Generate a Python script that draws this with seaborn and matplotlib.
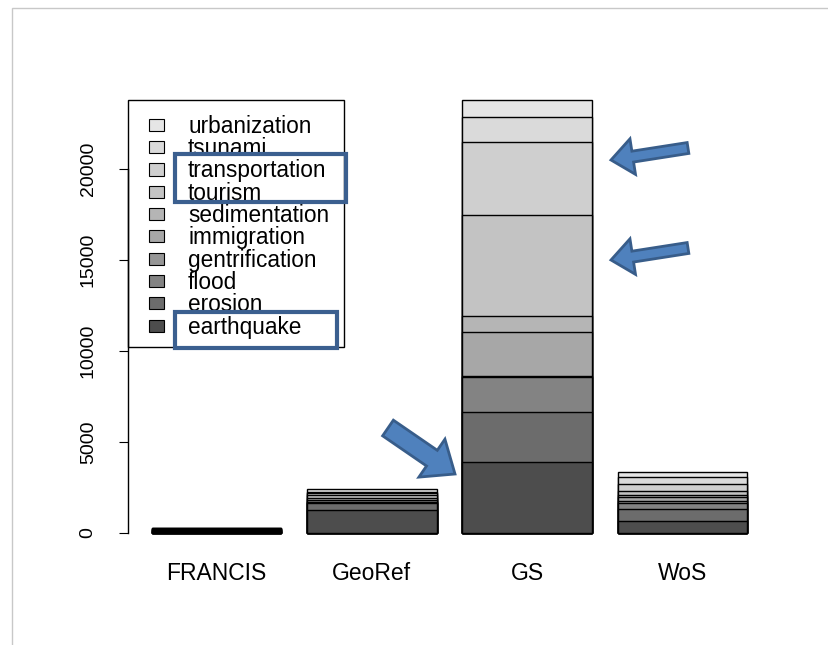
import numpy as np
import pandas as pd
import matplotlib
matplotlib.use("Agg")
import matplotlib.pyplot as plt
import matplotlib.patches as mpatches
from matplotlib.transforms import IdentityTransform
import seaborn as sns

sources = ["FRANCIS", "GeoRef", "GS", "WoS"]
topics = ["earthquake", "erosion", "flood", "gentrification", "immigration",
          "sedimentation", "tourism", "transportation", "tsunami", "urbanization"]

# hits per topic, bottom to top of each bar
francis = [60, 40, 50, 20, 30, 20, 20, 20, 10, 10]
georef = [1264, 366, 55, 30, 98, 92, 183, 92, 50, 188]
gs = [3918, 2714, 1923, 60, 2430, 879, 5550, 3995, 1407, 916]
wos = [660, 640, 370, 110, 215, 95, 235, 370, 365, 310]

# R gray.colors(10)
greys = ["#4D4D4D", "#6C6C6C", "#838383", "#969696", "#A7A7A7",
         "#B5B5B5", "#C3C3C3", "#CFCFCF", "#DADADA", "#E6E6E6"]

yticks = [0, 5000, 10000, 15000, 20000]

sns.set_style("white")
plt.rcParams["font.family"] = ["Liberation Sans", "DejaVu Sans"]
plt.rcParams["text.color"] = "black"
plt.rcParams["xtick.color"] = "black"
plt.rcParams["ytick.color"] = "black"

W, H = 829, 645
fig = plt.figure(figsize=(W / 100, H / 100), dpi=100)
ax = fig.add_axes([128 / W, (H - 550.3) / H, (771 - 128) / W, 467.6 / H])

counts = pd.DataFrame({"FRANCIS": francis, "GeoRef": georef, "GS": gs, "WoS": wos},
                      index=topics)
cum = counts.cumsum()

# stacked bars: draw cumulative totals from the top layer down
for topic, col in zip(reversed(topics), reversed(greys)):
    sns.barplot(x=sources, y=cum.loc[topic].values, color=col, saturation=1,
                edgecolor="black", linewidth=1, width=1 / 1.2, ax=ax)

ax.set_xlim(-0.5713, 3.5713)
ax.set_ylim(-951, 24743)
ax.set_xlabel("")
ax.set_ylabel("")

for s in ["top", "right", "bottom"]:
    ax.spines[s].set_visible(False)
ax.spines["left"].set_color("black")
ax.spines["left"].set_linewidth(1)
ax.spines["left"].set_bounds(0, 20000)

ax.set_yticks(yticks)
ax.set_yticklabels([str(v) for v in yticks])
ax.tick_params(axis="y", length=6.5, width=0.8, color="black", pad=16,
               labelsize=14, left=True, labelcolor="black")
for lab in ax.get_yticklabels():
    lab.set_rotation(90)
    lab.set_va("center")
ax.set_xticks(range(len(sources)))
ax.set_xticklabels(sources)
ax.tick_params(axis="x", length=0, pad=8.5, labelsize=16.5, labelcolor="black")

handles = [mpatches.Patch(facecolor=c, edgecolor="black", linewidth=0.8)
           for c in reversed(greys)]
leg = fig.legend(handles, list(reversed(topics)), loc="upper left",
                 bbox_to_anchor=(133 / W, 1 - 99 / H), bbox_transform=fig.transFigure,
                 borderaxespad=0, fontsize=16.3, frameon=False,
                 borderpad=0.7, labelspacing=-0.03, handlelength=0.68,
                 handleheight=0.45, handletextpad=1.05)
for t in leg.get_texts():
    t.set_color("black")

# legend box drawn separately so it hugs the entries like the original
fig.add_artist(mpatches.Rectangle((128 / W, 1 - 347 / H), (344 - 128) / W, (347 - 100) / H,
                                  transform=fig.transFigure, fill=False,
                                  edgecolor="black", linewidth=1, zorder=4))

# highlight boxes around legend entries
blue_dark = "#3B5F8F"
for x0, y0, x1, y1 in [(175, 154, 346, 202), (175, 312, 337, 348)]:
    fig.add_artist(mpatches.Rectangle((x0 / W, 1 - y1 / H), (x1 - x0) / W, (y1 - y0) / H,
                                      transform=fig.transFigure, fill=False,
                                      edgecolor=blue_dark, linewidth=3, zorder=10))

# arrows (pixel coordinates, origin bottom-left)
for tx, ty, hx, hy, w, hw, hl in [(688, H - 148, 611, H - 160, 11, 36, 22),
                                  (688, H - 248, 611, H - 260, 11, 36, 22),
                                  (388, H - 428, 455, H - 474, 19, 46, 28)]:
    fig.add_artist(mpatches.FancyArrow(tx, ty, hx - tx, hy - ty, width=w,
                                       head_width=hw, head_length=hl,
                                       length_includes_head=True,
                                       facecolor="#4F81BD", edgecolor="#385D8A",
                                       linewidth=2, transform=IdentityTransform(),
                                       zorder=10))

# picture frame
fig.add_artist(mpatches.Rectangle((12, -10), 900, H - 8 + 10, transform=IdentityTransform(),
                                  fill=False, edgecolor="#C8C8C8", linewidth=1))

fig.savefig("out.png", dpi=100)
